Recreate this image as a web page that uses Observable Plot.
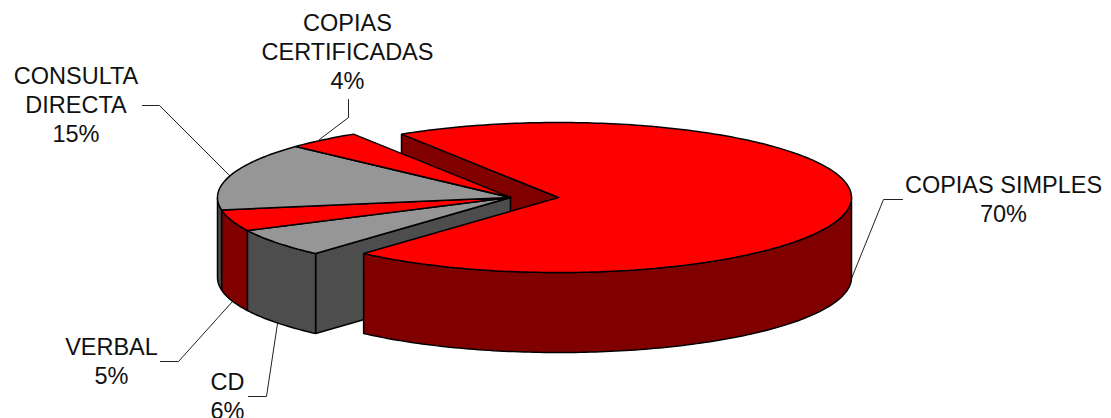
<!DOCTYPE html>
<html>
<head>
<meta charset="utf-8">
<script src="https://cdn.jsdelivr.net/npm/d3@7"></script>
<script src="https://cdn.jsdelivr.net/npm/@observablehq/plot@0.6"></script>
<style>html,body{margin:0;padding:0;background:#fff}svg{display:block}</style>
</head>
<body>
<div id="chart"></div>
<script>
// Data, clockwise from the back edge of COPIAS SIMPLES
const names = ["COPIAS SIMPLES", "CD", "VERBAL", "CONSULTA DIRECTA", "COPIAS CERTIFICADAS"];
const shares = [70.58, 6.17, 4.6, 14.55, 4.1];
const labels = ["70%", "6%", "5%", "15%", "4%"];
const labelLines = ["COPIAS SIMPLES", "CD", "VERBAL", "CONSULTA\nDIRECTA", "COPIAS\nCERTIFICADAS"];
const topColors = ["#ff0000", "#969696", "#ff0000", "#969696", "#ff0000"];
const wallColors = ["#800000", "#4d4d4d", "#800000", "#4d4d4d", "#800000"];

// Layout of the pseudo-3D pie
const W = 1111, H = 418;
const rx = 293, ry = 75, depth = 80, cy = 197;
const mainCx = 558, restCx = 510;
const startAngle = 122.4;
const labelX = [1003, 227, 111, 75.5, 347];
const labelY = [172, 369, 334, 63, 10];
const leaders = [
  [[902,199],[883,199],[851,278]],
  [[248,396],[266,396],[277,323]],
  [[160,361],[178,361],[232,301]],
  [[142,105],[159,105],[229,175]],
  [[348,99],[348,117],[319,139]]
];

const total = d3.sum(shares);
let a = startAngle + 360;   // angles kept positive: 482.4 is the same direction as 122.4
const slices = shares.map((v, i) => {
  const a0 = a; a -= v / total * 360;
  return {i, a0, a1: a, top: topColors[i], wall: wallColors[i], cx: i === 0 ? mainCx : restCx};
});
const pt = (cx, t, dz = 0) => {
  const r = t * Math.PI / 180;
  return {x: cx + rx * Math.cos(r), y: cy - ry * Math.sin(r) + dz};
};
const arc = (cx, t0, t1, dz = 0) => {
  const n = Math.max(2, Math.ceil(Math.abs(t1 - t0)));
  return d3.range(n + 1).map(k => pt(cx, t0 + (t1 - t0) * k / n, dz));
};
const close = p => [...p, p[0]];
const apex = (cx, dz = 0) => ({x: cx, y: cy + dz});
const topPoly = s => close([apex(s.cx), ...arc(s.cx, s.a0, s.a1)]);
const cutWall = (cx, t) => close([apex(cx), pt(cx, t), pt(cx, t, depth), apex(cx, depth)]);
// outer wall: only its front part, angles between 180 and 360, is visible
const outerWall = (cx, t0, t1) => close([...arc(cx, t0, t1), ...arc(cx, t1, t0, depth)]);

const main = slices[0], rest = slices.slice(1);
const polys = [
  // inner back face of the main slice
  {p: cutWall(mainCx, main.a0), fill: main.wall},
  // inner face of the second block
  {p: cutWall(restCx, rest[0].a0), fill: rest[0].wall},
  // front walls of the second block
  ...rest.filter(s => s.a0 > 180)
    .map(s => ({p: outerWall(restCx, s.a0, Math.max(s.a1, 180)), fill: s.wall})),
  ...rest.map(s => ({p: topPoly(s), fill: s.top})),
  // front wall and top of the main slice
  {p: outerWall(mainCx, main.a1, 360), fill: main.wall},
  {p: topPoly(main), fill: main.top}
];

const txt = names.map((n, i) => ({text: labelLines[i] + "\n" + labels[i], x: labelX[i], y: labelY[i]}));

const plot = Plot.plot({
  width: W, height: H,
  margin: 0,
  x: {domain: [0, W], range: [0, W], axis: null},
  y: {domain: [0, H], range: [0, H], axis: null},
  style: {background: "#fff"},
  marks: [
    ...leaders.map(l => Plot.line(l.map(([x, y]) => ({x, y})), {x: "x", y: "y", stroke: "#222", strokeWidth: 1, curve: "linear"})),
    ...polys.map(o => Plot.line(o.p, {x: "x", y: "y", fill: o.fill, stroke: "#000", strokeWidth: 1.5, strokeLinejoin: "miter", curve: "linear"})),
    Plot.text(txt, {x: "x", y: "y", text: "text", fontFamily: "Liberation Sans, Arial, sans-serif", fontSize: 23.5, lineHeight: 1.234, lineAnchor: "top", textAnchor: "middle", fill: "#111"})
  ]
});
document.getElementById("chart").appendChild(plot);
</script>
</body>
</html>
